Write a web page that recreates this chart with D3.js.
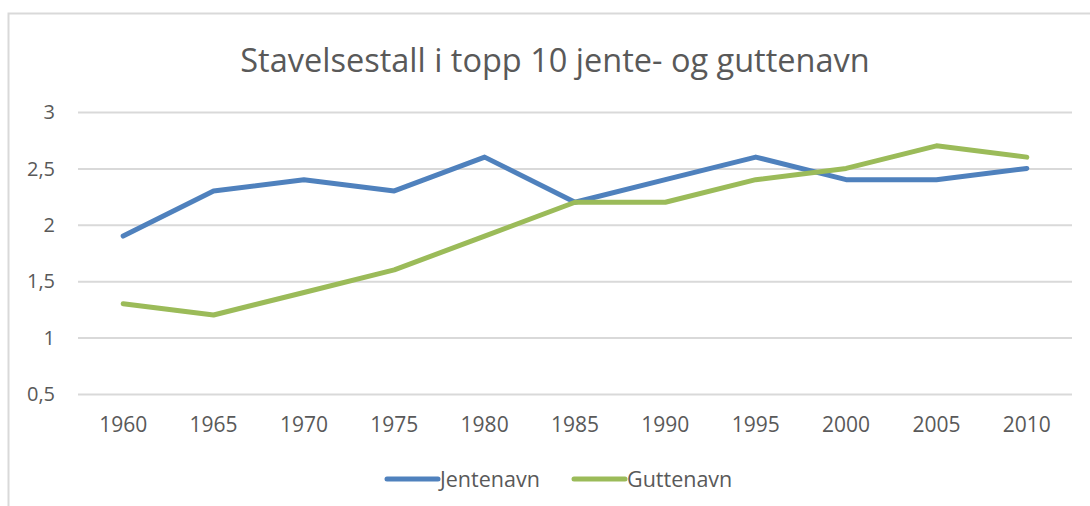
<!DOCTYPE html>
<html>
<head>
<meta charset="utf-8">
<script src="https://cdn.jsdelivr.net/npm/d3@7"></script>
<style>
  body { margin:0; background:#fff; }
  text { font-family:"Open Sans", sans-serif; fill:#595959; }
  .grid line { stroke:#d9d9d9; stroke-width:2; }
  .grid path { display:none; }
  .curve { fill:none; stroke-width:5; stroke-linejoin:round; stroke-linecap:round; }
</style>
</head>
<body>
<div id="linechart"></div>
<script>
// data
var years = ['1960','1965','1970','1975','1980','1985','1990','1995','2000','2005','2010'];
var jentenavn = [1.9, 2.3, 2.4, 2.3, 2.6, 2.2, 2.4, 2.6, 2.4, 2.4, 2.5];
var guttenavn = [1.3, 1.2, 1.4, 1.6, 1.9, 2.2, 2.2, 2.4, 2.5, 2.7, 2.6];
var y_ticks = [0.5, 1, 1.5, 2, 2.5, 3];
var series_names = ['Jentenavn', 'Guttenavn'];

var title = 'Stavelsestall i topp 10 jente- og guttenavn',
    svg_width = 1090,
    svg_height = 506,
    margin = {left:78, top:112, right:18, bottom:112},
    colors = ['#4f81bd', '#9bbb59'];

var svg = d3.select('#linechart')
    .append('svg')
    .attr('width', svg_width)
    .attr('height', svg_height);

// outer frame (only top + left visible in the reference)
svg.append('rect')
    .attr('x', 8.5).attr('y', 13.5)
    .attr('width', 1200).attr('height', 600)
    .attr('fill', 'none')
    .attr('stroke', '#d9d9d9')
    .attr('stroke-width', 2);

var scale_x = d3.scaleBand()
    .domain(years)
    .range([margin.left, svg_width - margin.right])
    .padding(0);

var scale_y = d3.scaleLinear()
    .domain([0.5, 3])
    .range([394, 112]);

// gridlines
svg.append('g')
    .attr('class', 'grid')
    .attr('transform', 'translate(' + margin.left + ',0)')
    .call(d3.axisLeft(scale_y)
        .tickValues(y_ticks)
        .tickSize(-(svg_width - margin.right - margin.left))
        .tickFormat(''));

// y labels
svg.append('g')
    .selectAll('text')
    .data(y_ticks)
    .enter()
    .append('text')
    .attr('x', 55)
    .attr('y', function (d) { return scale_y(d); })
    .attr('dy', '0.36em')
    .attr('text-anchor', 'end')
    .style('font-size', '20px')
    .text(function (d) { return String(d).replace('.', ','); });

// x labels
svg.append('g')
    .selectAll('text')
    .data(years)
    .enter()
    .append('text')
    .attr('x', function (d) { return scale_x(d) + scale_x.bandwidth() / 2; })
    .attr('y', 432)
    .attr('text-anchor', 'middle')
    .style('font-size', '21px')
    .text(function (d) { return d; });

// lines
var line_generator = d3.line()
    .x(function (d, i) { return scale_x(years[i]) + scale_x.bandwidth() / 2; })
    .y(function (d) { return scale_y(d); });

[jentenavn, guttenavn].forEach(function (s, i) {
    svg.append('path')
        .attr('class', 'curve')
        .attr('d', line_generator(s))
        .attr('stroke', colors[i]);
});

// title
svg.append('text')
    .attr('x', 555)
    .attr('y', 72)
    .attr('text-anchor', 'middle')
    .style('font-size', '32.5px')
    .text(title);

// legend
var legend_x = [385, 572];
series_names.forEach(function (name, i) {
    var g = svg.append('g').attr('transform', 'translate(' + legend_x[i] + ',479)');
    g.append('line')
        .attr('x1', 2).attr('x2', 53)
        .attr('stroke', colors[i])
        .attr('stroke-width', 5)
        .attr('stroke-linecap', 'round');
    g.append('text')
        .attr('x', 55)
        .attr('dy', '0.36em')
        .style('font-size', '21.5px')
        .text(name);
});
</script>
</body>
</html>
